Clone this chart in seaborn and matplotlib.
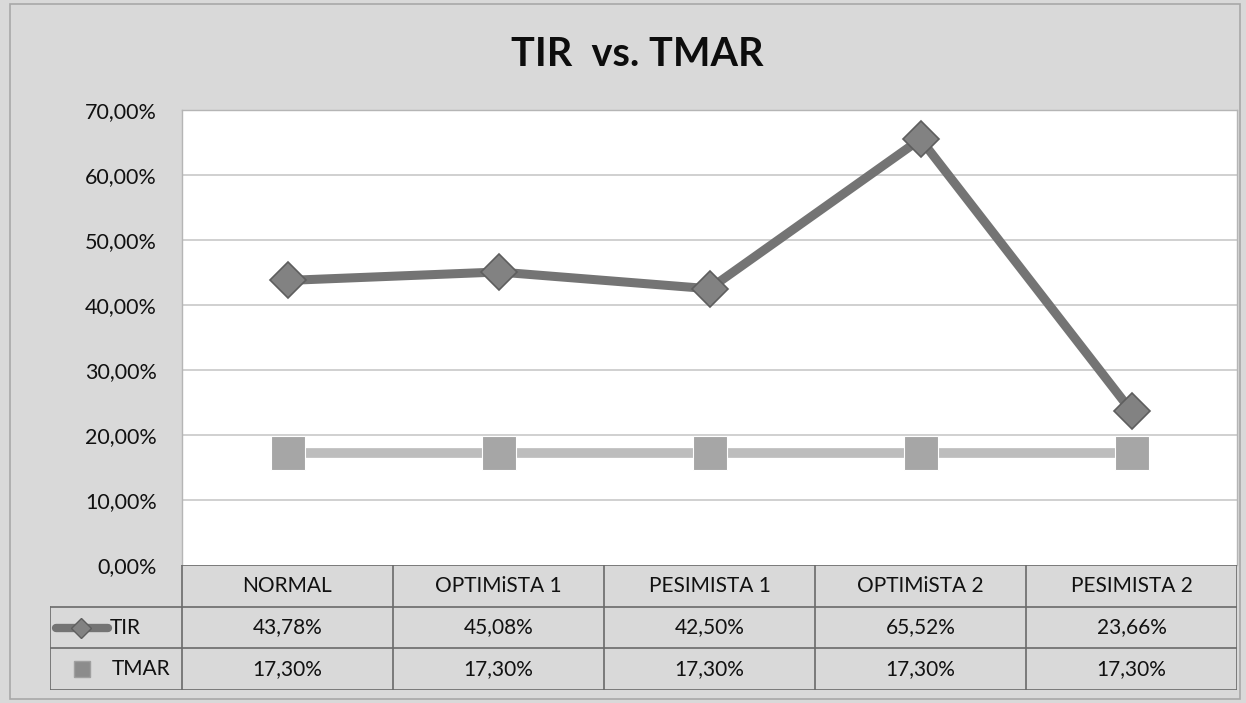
import matplotlib
matplotlib.use("Agg")
import matplotlib.pyplot as plt
import seaborn as sns
import pandas as pd
from matplotlib.patches import Rectangle
from matplotlib.ticker import FuncFormatter

categories = ["NORMAL", "OPTIMiSTA 1", "PESIMISTA 1", "OPTIMiSTA 2", "PESIMISTA 2"]
tir = [43.78, 45.08, 42.50, 65.52, 23.66]
tmar = [17.30, 17.30, 17.30, 17.30, 17.30]
series_names = ["TIR", "TMAR"]
yticks = [0, 10, 20, 30, 40, 50, 60, 70]

sns.set_theme(style="white")
plt.rcParams["font.family"] = ["Lato", "DejaVu Sans"]

W, H = 1246, 703
BG = "#d9d9d9"
TXT = "#111111"
fig = plt.figure(figsize=(W / 100, H / 100), dpi=100)
fig.patch.set_facecolor(BG)

# outer frame
fig.add_artist(Rectangle((10 / W, 4 / H), (W - 16) / W, (H - 8) / H, transform=fig.transFigure,
                         fill=False, edgecolor="#a8a8a8", lw=1.2))

L, R, T, B = 182, 1237, 110, 565
ax = fig.add_axes([L / W, 1 - B / H, (R - L) / W, (B - T) / H])
ax.set_facecolor("white")

df = pd.DataFrame({"cat": categories, "TIR": tir, "TMAR": tmar})
df["pos"] = range(len(categories))

for v in yticks[1:]:
    ax.axhline(v, color="#c4c4c4", lw=1.1, zorder=0)

sns.lineplot(data=df, x="pos", y="TMAR", ax=ax, color="#bdbdbd", lw=7, marker="s",
             markersize=24, markerfacecolor="#a6a6a6", markeredgecolor="white",
             markeredgewidth=0.8, zorder=3)
sns.lineplot(data=df, x="pos", y="TIR", ax=ax, color="#747474", lw=6.5, marker="D",
             markersize=18, markerfacecolor="#828282", markeredgecolor="#5e5e5e",
             markeredgewidth=1.2, zorder=4)

ax.set_xlim(-0.5, len(categories) - 0.5)
ax.set_ylim(0, 70)
ax.set_yticks(yticks)
ax.yaxis.set_major_formatter(FuncFormatter(lambda v, p: f"{v:.2f}".replace(".", ",") + "%"))
ax.tick_params(axis="y", labelsize=15.5, pad=18, colors=TXT, length=0)
ax.set_xticks([])
ax.set_xlabel("")
ax.set_ylabel("")
for s in ax.spines.values():
    s.set_color("#b5b5b5")
    s.set_linewidth(1)
ax.spines["bottom"].set_visible(False)

fig.text(637 / W, 1 - 55 / H, "TIR  vs. TMAR", ha="center", va="center",
         fontsize=28.5, fontweight="bold", color="#0d0d0d")

# data table
TL, TT, TB = 50, 565, 690
tax = fig.add_axes([TL / W, 1 - TB / H, (R - TL) / W, (TB - TT) / H])
tax.set_facecolor("none")
tax.axis("off")
colw = (R - L) / len(categories)
x0 = -0.5 - (L - TL) / colw
tax.set_xlim(x0, len(categories) - 0.5)
tax.set_ylim(3, 0)
lc = "#6a6a6a"
tax.plot([-0.5, len(categories) - 0.5], [0, 0], color=lc, lw=1.2)
for yy in (1, 2, 3):
    tax.plot([x0, len(categories) - 0.5], [yy, yy], color=lc, lw=1.2)
tax.plot([x0, x0], [1, 3], color=lc, lw=1.2)
for i in range(len(categories) + 1):
    tax.plot([i - 0.5, i - 0.5], [0, 3], color=lc, lw=1.2)

def fmt(v):
    return f"{v:.2f}".replace(".", ",") + "%"

FS = 15
for i, c in enumerate(categories):
    tax.text(i, 0.5, c, ha="center", va="center", fontsize=FS, color=TXT)
    tax.text(i, 1.5, fmt(tir[i]), ha="center", va="center", fontsize=FS, color=TXT)
    tax.text(i, 2.5, fmt(tmar[i]), ha="center", va="center", fontsize=FS, color=TXT)

def px(p):
    return -0.5 + (p - L) / colw

tax.plot([px(56), px(108)], [1.5, 1.5], color="#747474", lw=6, solid_capstyle="round")
tax.plot([px(81)], [1.5], marker="D", markersize=10, markerfacecolor="#828282",
         markeredgecolor="#5e5e5e", linestyle="none")
tax.text(px(110), 1.5, series_names[0], ha="left", va="center", fontsize=FS, color=TXT)
tax.plot([px(82)], [2.5], marker="s", markersize=12, markerfacecolor="#8c8c8c",
         markeredgecolor="#a0a0a0", markeredgewidth=1, linestyle="none")
tax.text(px(112), 2.5, series_names[1], ha="left", va="center", fontsize=FS, color=TXT)

fig.savefig("out.png", dpi=100, facecolor=fig.get_facecolor())
